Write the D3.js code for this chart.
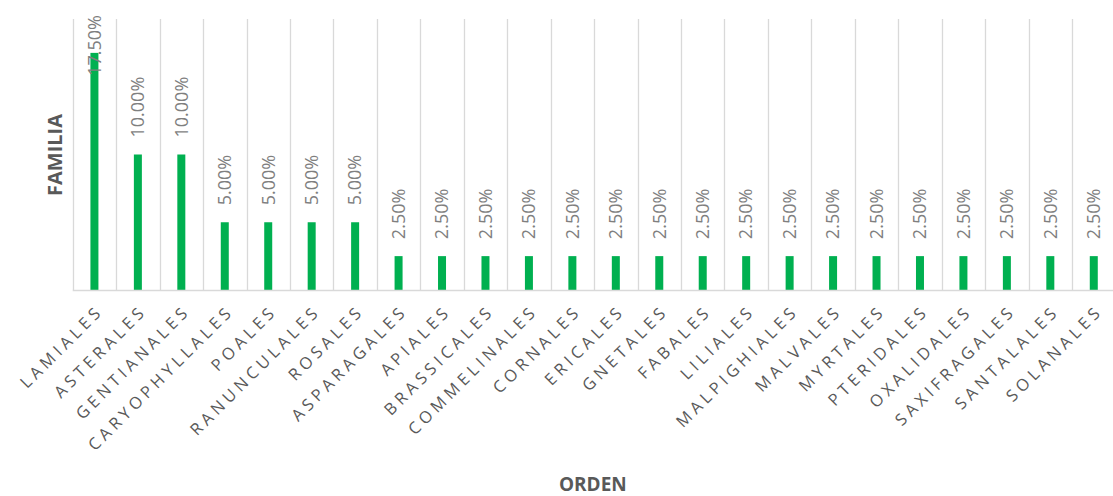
<!DOCTYPE html>
<html>
<head>
<meta charset="utf-8">
<script src="https://cdn.jsdelivr.net/npm/d3@7"></script>
<style>
  html, body { margin: 0; padding: 0; background: #fff; }
  svg { display: block; }
</style>
</head>
<body>
<svg id="chart" width="1113" height="496"></svg>
<script>
// Orders and the share of families in each
const categories = [
  "LAMIALES", "ASTERALES", "GENTIANALES", "CARYOPHYLLALES", "POALES",
  "RANUNCULALES", "ROSALES", "ASPARAGALES", "APIALES", "BRASSICALES",
  "COMMELINALES", "CORNALES", "ERICALES", "GNETALES", "FABALES",
  "LILIALES", "MALPIGHIALES", "MALVALES", "MYRTALES", "PTERIDALES",
  "OXALIDALES", "SAXIFRAGALES", "SANTALALES", "SOLANALES"
];
const values = [
  0.175, 0.10, 0.10, 0.05, 0.05,
  0.05, 0.05, 0.025, 0.025, 0.025,
  0.025, 0.025, 0.025, 0.025, 0.025,
  0.025, 0.025, 0.025, 0.025, 0.025,
  0.025, 0.025, 0.025, 0.025
];
const yDomain = [0, 0.20];
const xTitle = "ORDEN";
const yTitle = "FAMILIA";

const svg = d3.select("#chart");
const plot = { left: 72.7, right: 1115.5, top: 19, bottom: 290 };

const x = d3.scaleBand().domain(categories).range([plot.left, plot.right]).padding(0);
const y = d3.scaleLinear().domain(yDomain).range([plot.bottom, plot.top]);
const fmt = d3.format(".2%");
const barWidth = 8;

// vertical category separators
svg.append("g")
  .selectAll("line")
  .data(categories)
  .join("line")
  .attr("x1", d => Math.round(x(d)) + 0.5)
  .attr("x2", d => Math.round(x(d)) + 0.5)
  .attr("y1", plot.top)
  .attr("y2", plot.bottom)
  .attr("stroke", "#d9d9d9")
  .attr("stroke-width", 1.3);

// bars
svg.append("g")
  .selectAll("rect")
  .data(categories)
  .join("rect")
  .attr("x", (d) => x(d) + x.bandwidth() / 2 - barWidth / 2)
  .attr("y", (d, i) => y(values[i]))
  .attr("width", barWidth)
  .attr("height", (d, i) => y(0) - y(values[i]))
  .attr("fill", "#00b050");

// baseline axis
const xAxis = d3.axisBottom(x).tickSize(0).tickFormat("");
const axisG = svg.append("g").attr("transform", `translate(0,${plot.bottom})`).call(xAxis);
axisG.select(".domain").attr("stroke", "#d9d9d9").attr("stroke-width", 1.6)
  .attr("d", `M${plot.left},0.5H${plot.right}`);

// category labels, rotated
svg.append("g")
  .selectAll("text")
  .data(categories)
  .join("text")
  .attr("transform", d => `translate(${x(d) + x.bandwidth() / 2 + 10},${plot.bottom + 22}) rotate(-45)`)
  .attr("text-anchor", "end")
  .attr("font-family", "'Open Sans', sans-serif")
  .attr("font-size", 16.5)
  .attr("letter-spacing", 4.2)
  .attr("fill", "#595959")
  .text(d => d);

// value labels, rotated, kept inside the plot area
const labels = svg.append("g")
  .selectAll("text")
  .data(categories)
  .join("text")
  .attr("text-anchor", "start")
  .attr("font-family", "'Open Sans', sans-serif")
  .attr("font-size", 18)
  .attr("fill", "#7f7f7f")
  .text((d, i) => fmt(values[i]));

labels.each(function (d, i) {
  const len = this.getComputedTextLength();
  let base = y(values[i]) - 17;
  if (base - len < plot.top - 4) base = plot.top - 4 + len;
  const cx = x(d) + x.bandwidth() / 2;
  d3.select(this)
    .attr("transform", `translate(${cx},${base}) rotate(-90)`)
    .attr("dy", "0.35em");
});

// axis titles
svg.append("text")
  .attr("x", (plot.left + 1113) / 2)
  .attr("y", 491)
  .attr("text-anchor", "middle")
  .attr("font-family", "'Open Sans', sans-serif")
  .attr("font-weight", "bold")
  .attr("font-size", 19)
  .attr("fill", "#595959")
  .text(xTitle);

svg.append("text")
  .attr("transform", `translate(62,155) rotate(-90)`)
  .attr("text-anchor", "middle")
  .attr("font-family", "'Open Sans', sans-serif")
  .attr("font-weight", "bold")
  .attr("font-size", 20)
  .attr("fill", "#595959")
  .text(yTitle);
</script>
</body>
</html>
